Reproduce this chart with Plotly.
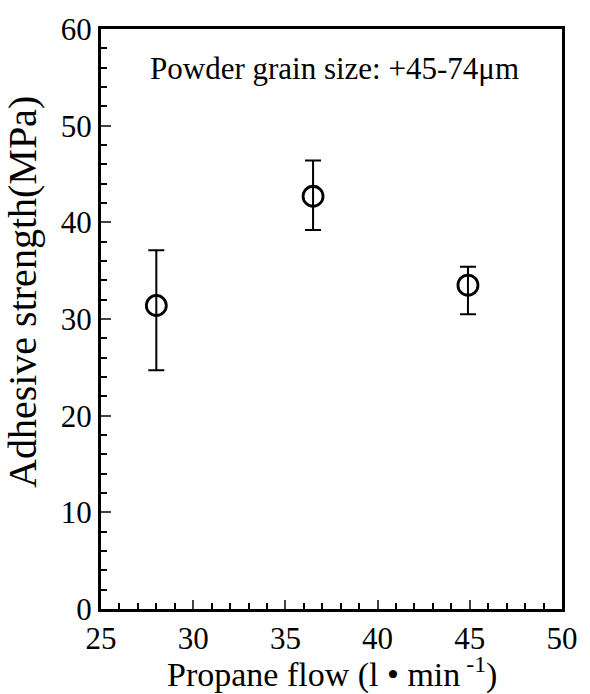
import plotly.graph_objects as go

flow = [28.0, 36.5, 44.9]
strength = [31.4, 42.7, 33.5]
err_plus = [5.7, 3.7, 1.9]
err_minus = [6.7, 3.5, 3.0]

x_ticks = [25, 30, 35, 40, 45, 50]
y_ticks = [0, 10, 20, 30, 40, 50, 60]

font_family = "Liberation Serif, Times New Roman, serif"

fig = go.Figure()
fig.add_trace(go.Scatter(
    x=flow, y=strength, mode="markers",
    marker=dict(symbol="circle-open", size=20, color="black", line=dict(width=2.8, color="black")),
    error_y=dict(type="data", symmetric=False, array=err_plus, arrayminus=err_minus,
                 color="black", thickness=2, width=8),
    showlegend=False,
))

fig.add_annotation(x=0.506, y=0.9315, xref="paper", yref="paper",
                   text="Powder grain size: +45-74μm", showarrow=False,
                   xanchor="center", yanchor="middle",
                   font=dict(family=font_family, size=31, color="black"))

fig.add_annotation(x=-0.17, y=0.546, xref="paper", yref="paper",
                   text="Adhesive strength(MPa)", showarrow=False, textangle=-90,
                   xanchor="center", yanchor="middle",
                   font=dict(family=font_family, size=40, color="black"))

fig.add_annotation(x=0.5, y=-0.11, xref="paper", yref="paper",
                   text="Propane flow (l • min<sup> -1</sup>)", showarrow=False,
                   xanchor="center", yanchor="middle",
                   font=dict(family=font_family, size=34, color="black"))

fig.update_layout(
    width=590, height=694,
    margin=dict(l=101, r=19, t=25, b=85),
    paper_bgcolor="white", plot_bgcolor="white",
    font=dict(family=font_family, color="black"),
    xaxis=dict(range=[25, 50], tickvals=x_ticks, ticks="inside", ticklen=9, tickwidth=2,
               showline=True, linewidth=3, linecolor="black", mirror=True,
               showgrid=False, zeroline=False,
               tickfont=dict(size=31, family=font_family),
               minor=dict(dtick=1, ticks="inside", ticklen=6, tickwidth=1.5, tickcolor="black")),
    yaxis=dict(range=[0, 60], tickvals=y_ticks, ticks="inside", ticklen=10, tickwidth=2,
               showline=True, linewidth=3, linecolor="black", mirror=True,
               showgrid=False, zeroline=False,
               tickfont=dict(size=31, family=font_family),
               minor=dict(dtick=2, ticks="inside", ticklen=6, tickwidth=1.5, tickcolor="black")),
)

fig.write_html("out.html")
